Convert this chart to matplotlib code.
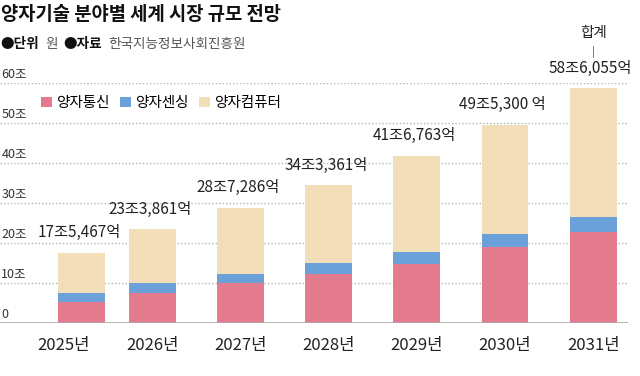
import matplotlib
matplotlib.use("Agg")
import matplotlib.pyplot as plt
import numpy as np

plt.rcParams['font.family'] = ['Noto Sans CJK KR', 'DejaVu Sans']

# Data (조 원)
years = ['2025년', '2026년', '2027년', '2028년', '2029년', '2030년', '2031년']
telecom = [5.25, 7.5, 10.0, 12.2, 14.7, 18.85, 22.75]      # 양자통신
sensing = [2.25, 2.5, 2.25, 2.65, 3.05, 3.4, 3.75]          # 양자센싱
totals = [17.5467, 23.3861, 28.7286, 34.3361, 41.6763, 49.53, 58.6055]
total_labels = ['17조5,467억', '23조3,861억', '28조7,286억', '34조3,361억',
                '41조6,763억', '49조5,300 억', '58조6,055억']
computer = [t - a - b for t, a, b in zip(totals, telecom, sensing)]  # 양자컴퓨터
yticks = [0, 10, 20, 30, 40, 50, 60]
ytick_labels = ['0', '10조', '20조', '30조', '40조', '50조', '60조']

c_tel = '#E47A8E'
c_sen = '#6CA0D8'
c_com = '#F2DFBA'

W, H = 640, 376
fig = plt.figure(figsize=(6.4, 3.76), dpi=100)
ax = fig.add_axes([0, (H - 322.7) / H, 628 / W, 240 / H])

x = np.arange(len(years))
# the first bar sits a little right of its year label, as in the original
bx = x.astype(float)
bx[0] += 0.2
bw = 0.53
ax.bar(bx, telecom, bw, color=c_tel, label='양자통신', zorder=3)
ax.bar(bx, sensing, bw, bottom=telecom, color=c_sen, label='양자센싱', zorder=3)
bottom2 = [a + b for a, b in zip(telecom, sensing)]
ax.bar(bx, computer, bw, bottom=bottom2, color=c_com, label='양자컴퓨터', zorder=3)

ax.set_xlim(-0.726, 6.395)
ax.set_ylim(0, 60)

# gridlines and baseline
for v in yticks[1:]:
    ax.axhline(v, color='#b5b5b5', lw=1, ls=(0, (1, 1.5)), zorder=1)
ax.axhline(0, color='#a8a8a8', lw=1.2, zorder=4)

for v, lab in zip(yticks, ytick_labels):
    ax.annotate(lab, (0, v), xycoords=('axes fraction', 'data'),
                xytext=(1, 6), textcoords='offset points',
                ha='left', va='center', fontsize=9, color='#333333')

for s in ax.spines.values():
    s.set_visible(False)
ax.set_yticks([])
ax.set_xticks(x)
ax.set_xticklabels(years, fontsize=12, color='#222222')
ax.tick_params(axis='x', length=0, pad=10)

# total labels
for xi, t, lab in zip(bx, totals, total_labels):
    ax.annotate(lab, (xi - 0.03, t), xytext=(0, 14.5), textcoords='offset points',
                ha='center', va='center', fontsize=11, color='#222222',
                annotation_clip=False)
ax.annotate('|', (bx[-1], totals[-1]), xytext=(0, 26), textcoords='offset points',
            ha='center', va='center', fontsize=8, color='#555555',
            annotation_clip=False)
ax.annotate('합계', (bx[-1], totals[-1]), xytext=(0, 40), textcoords='offset points',
            ha='center', va='center', fontsize=10.5, color='#222222',
            annotation_clip=False)

ax.legend(loc='upper left', bbox_to_anchor=(41 / W, 1 - 96 / H),
          bbox_transform=fig.transFigure, ncol=3, frameon=False,
          fontsize=10.5, handlelength=0.75, handleheight=0.75,
          handletextpad=0.3, columnspacing=0.7, borderpad=0, borderaxespad=0)

# title and source line
fig.text(1 / W, 1 - 14 / H, '양자기술 분야별 세계 시장 규모 전망',
         fontsize=13.5, fontweight='bold', va='center', ha='left', color='#111111')
sy = 1 - 44 / H
fs = 9.8
fig.text(0 / W, sy, '●단위', fontsize=fs, fontweight='bold', va='center', color='#111111')
fig.text(45 / W, sy, '원', fontsize=fs, va='center', color='#555555')
fig.text(63 / W, sy, '●자료', fontsize=fs, fontweight='bold', va='center', color='#111111')
fig.text(108 / W, sy, '한국지능정보사회진흥원', fontsize=fs, va='center', color='#555555')

fig.savefig('out.png', dpi=100)
